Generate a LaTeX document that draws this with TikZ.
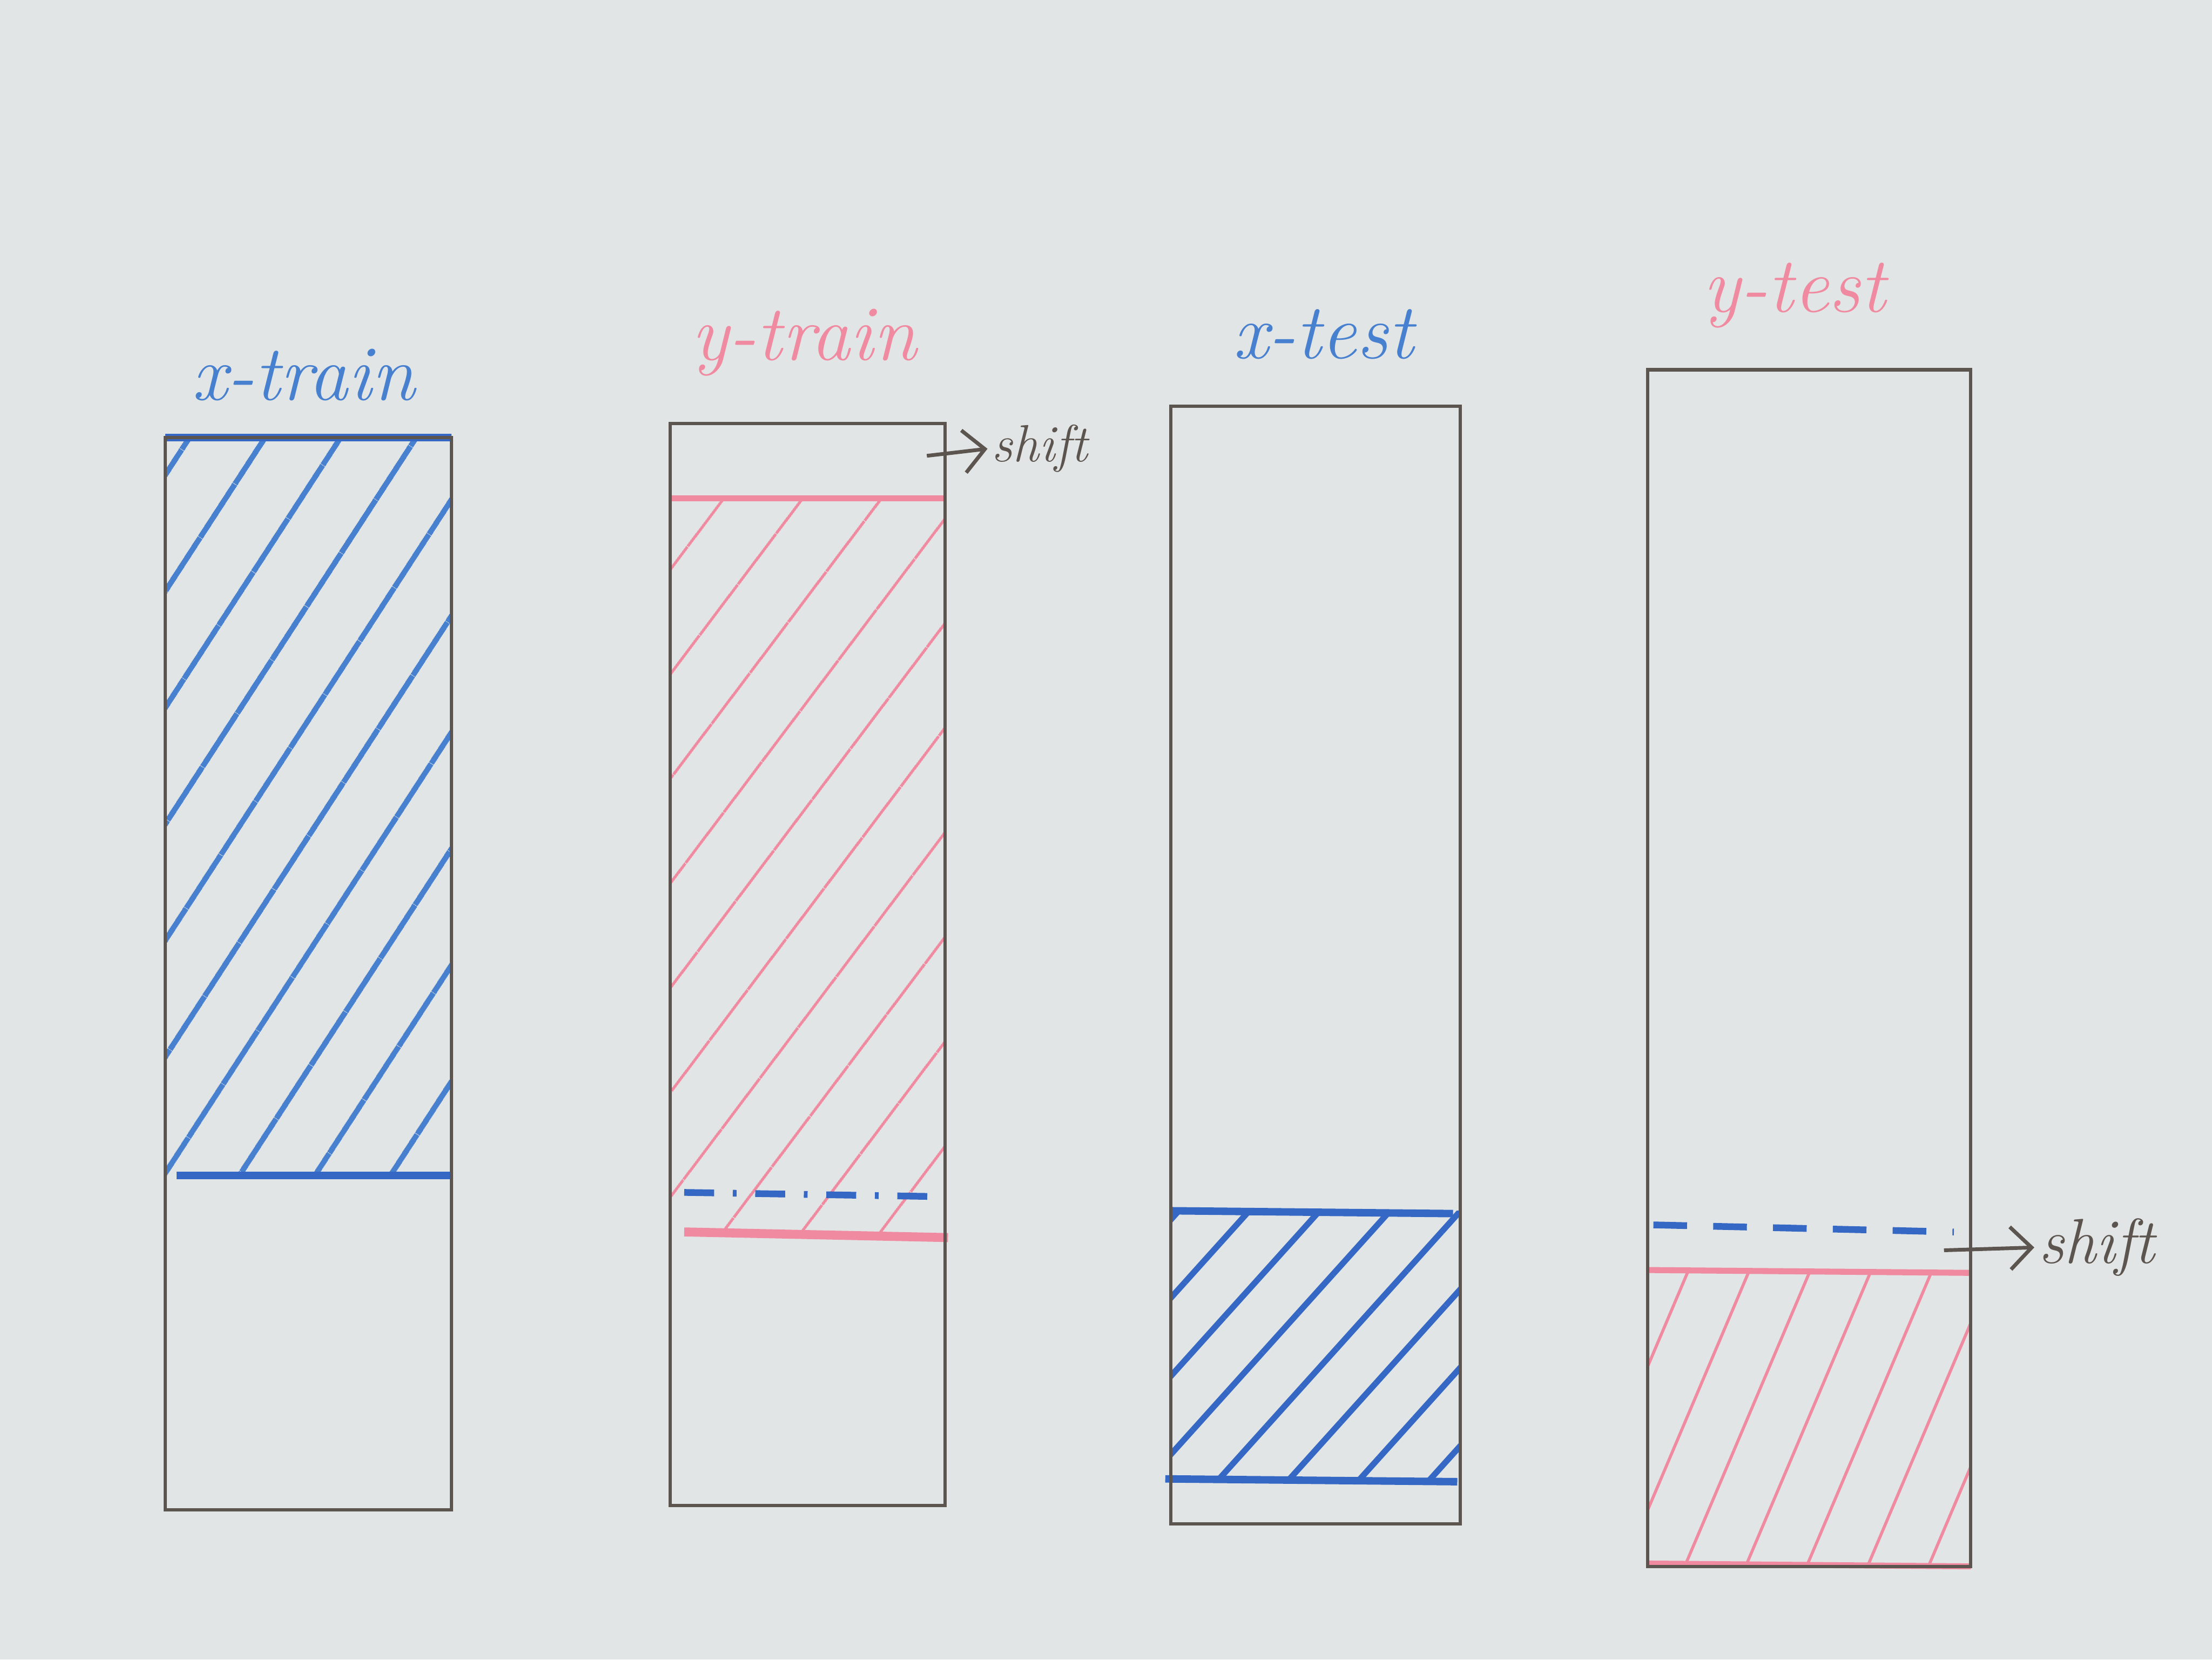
\documentclass[tikz,border=0pt]{standalone}
\usepackage{xcolor}
\usepackage{tikz}
\usetikzlibrary{arrows.meta,positioning,patterns.meta}
\definecolor{board}{RGB}{226,229,229}
\definecolor{ink}{RGB}{92,84,78}
\definecolor{mblue}{RGB}{72,128,208}
\definecolor{dblue}{RGB}{52,104,196}
\definecolor{mpink}{RGB}{240,138,160}

\begin{document}
\begin{tikzpicture}[x=0.013265cm,y=-0.013265cm,node distance=3mm,
 frame/.style={draw=ink,line width=0.9pt},
 title/.style={font=\fontsize{21}{23}\selectfont\itshape,inner sep=1pt},
 xlab/.style={title,text=mblue},ylab/.style={title,text=mpink},
 bline/.style={draw=dblue,line width=2pt},pline/.style={draw=mpink,line width=2pt},
 bdash/.style={draw=dblue,line width=1.8pt,dash pattern=on 9pt off 7pt},
 arr/.style={-{Straight Barb[length=2mm]},draw=ink,line width=1pt},
 note/.style={font=\fontsize{14}{16}\selectfont\itshape,text=ink,inner sep=1pt}]
% whiteboard
\fill[board] (0,0) rectangle (1568,1176);
% hatched parts
\path[pattern={Lines[angle=57,distance=17pt,line width=1.5pt]},pattern color=mblue] (117,310) rectangle (320,833);
\path[pattern={Lines[angle=53,distance=17pt,line width=0.8pt]},pattern color=mpink] (475,353) rectangle (670,873);
\path[pattern={Lines[angle=48,distance=14pt,line width=1.6pt]},pattern color=dblue] (830,858) rectangle (1035,1048);
\path[pattern={Lines[angle=67,distance=15pt,line width=0.8pt]},pattern color=mpink] (1168,900) rectangle (1397,1110);
% split lines
\draw[bline] (117,310) -- (320,310);
\draw[bline] (125,833) -- (320,833);
\draw[pline,line width=1.6pt] (475,353) -- (670,353);
\draw[bdash,dash pattern=on 8pt off 5pt on 1pt off 5pt] (485,845) -- (668,848);
\draw[pline,line width=2.4pt] (485,873) -- (672,877);
\draw[bline] (830,858) -- (1030,860);
\draw[bline] (826,1048) -- (1033,1050);
\draw[bdash] (1172,868) -- (1385,873);
\draw[pline,line width=1.6pt] (1168,900) -- (1397,902);
\draw[pline,line width=1.6pt] (1168,1108) -- (1397,1110);
% boxes
\draw[frame] (117,310) rectangle (320,1070);
\draw[frame] (475,300) rectangle (670,1067);
\draw[frame] (830,288) rectangle (1035,1080);
\draw[frame] (1168,262) rectangle (1397,1110);
% titles
\coordinate (xtrtop) at (215,310);
\coordinate (ytrtop) at (570,300);
\coordinate (xtetop) at (938,288);
\coordinate (ytetop) at (1272,262);
\node[xlab,above=3mm of xtrtop] (xtrlab) {x-train};
\node[ylab,above=4mm of ytrtop] (ytrlab) {y-train};
\node[xlab,above=4mm of xtetop] (xtelab) {x-test};
\node[ylab,above=3.5mm of ytetop] (ytelab) {y-test};
% shift notes
\coordinate (ytrfrom) at (657,323);
\node[note,anchor=west] (ytrshift) at (700,318) {shift};
\draw[arr] (ytrfrom) -- (ytrshift.west);
\coordinate (ytefrom) at (1378,886);
\node[note,anchor=west,font=\fontsize{17}{19}\selectfont\itshape] (yteshift) at (1442,884) {shift};
\draw[arr] (ytefrom) -- (yteshift.west);
\end{tikzpicture}
\end{document}
